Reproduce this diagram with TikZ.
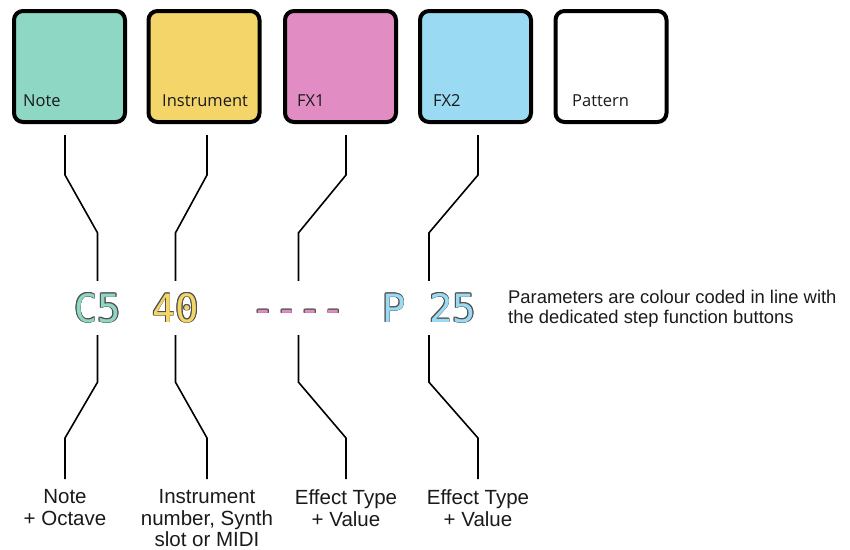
\documentclass[tikz,border=0pt]{standalone}
\usepackage{fontspec}
\setmainfont{Liberation Sans}
\newfontfamily\btnfont{Open Sans}
\newfontfamily\codefont{DejaVu Sans Mono}
\definecolor{notecol}{HTML}{8DD7C4}
\definecolor{instcol}{HTML}{F3D56A}
\definecolor{fxacol}{HTML}{E18DC3}
\definecolor{fxbcol}{HTML}{9ADAF2}
\definecolor{rim}{HTML}{4D4D4D}
\definecolor{ink}{HTML}{1A1A1A}
\newcommand\rimtext[2]{\leavevmode\foreach \dx/\dy in {-0.9/0,0.9/0,0/0.9,0/-0.9,-0.65/0.65,0.65/0.65,-0.65/-0.65,0.65/-0.65}{\rlap{\kern\dx pt\raisebox{\dy pt}{\color{rim}#2}}}\textcolor{#1}{#2}}

\begin{document}
\begin{tikzpicture}[x=1pt, y=-1pt,
    btn/.style={draw=black, line width=4pt, rounded corners=9pt, minimum size=111pt, inner sep=0pt},
    btnlbl/.style={anchor=base west, inner sep=0pt, text=ink, font=\btnfont\fontsize{16.5}{18}\selectfont},
    code/.style={inner sep=0pt, minimum height=54pt, text height=28pt, text depth=0pt, font=\codefont\fontsize{39}{39}\selectfont},
    desc/.style={anchor=north, align=center, inner xsep=0pt, inner ysep=10.5pt, text=ink, font=\fontsize{20.5}{21.5}\selectfont},
    link/.style={line width=1.6pt, black}]
    \useasboundingbox (0,0) rectangle (850,549);

    \node[btn, fill=notecol] (note) at (69.5,66.5) {};
    \node[btn, fill=instcol] (inst) at (204,66.5) {};
    \node[btn, fill=fxacol] (fxa) at (340.5,66.5) {};
    \node[btn, fill=fxbcol] (fxb) at (475.5,66.5) {};
    \node[btn, fill=white] (pattern) at (611,66.5) {};
    \node[btnlbl] (notelbl) at (23,106) {Note};
    \node[btnlbl] (instlbl) at (162,106) {Instrument};
    \node[btnlbl] (fxalbl) at (297,106) {FX1};
    \node[btnlbl] (fxblbl) at (433,106) {FX2};
    \node[btnlbl] (patternlbl) at (572,106) {Pattern};

    \node[code] (c5) at (97.5,308) {\rimtext{notecol}{C5}};
    \node[code] (num) at (175.5,308) {\rimtext{instcol}{40}};
    \node[code] (dash) at (298.5,308) {\rimtext{fxacol}{----}};
    \node[code] (p25) at (429,308) {\rimtext{fxbcol}{P 25}};
    \node[anchor=north west, inner sep=0pt, align=left, text=ink, font=\fontsize{18.4}{20}\selectfont] (hint) at (508,289.5) {Parameters are colour coded in line with\\the dedicated step function buttons};

    \node[desc] (oct) at (65,479) {Note\\+ Octave};
    \node[desc] (slot) at (207,479) {Instrument\\number, Synth\\slot or MIDI};
    \node[desc] (fxaval) at (346,479) {Effect Type\\+ Value};
    \node[desc] (fxbval) at (478,479) {Effect Type\\+ Value};

    \draw[link] (note.south -| oct.north) ++(0,11) -- ++(0,40) -- ([yshift=48pt]c5.north) -- (c5.north);
    \draw[link] (inst.south -| slot.north) ++(0,11) -- ++(0,40) -- ([yshift=48pt]num.north) -- (num.north);
    \draw[link] (fxa.south -| fxaval.north) ++(0,11) -- ++(0,40) -- ([yshift=48pt]dash.north) -- (dash.north);
    \draw[link] (fxb.south -| fxbval.north) ++(0,11) -- ++(0,40) -- ([yshift=48pt]p25.north) -- (p25.north);

    \draw[link] (c5.south) -- ++(0,47) -- ([yshift=41pt]oct.north) -- (oct.north);
    \draw[link] (num.south) -- ++(0,47) -- ([yshift=41pt]slot.north) -- (slot.north);
    \draw[link] (dash.south) -- ++(0,47) -- ([yshift=41pt]fxaval.north) -- (fxaval.north);
    \draw[link] (p25.south) -- ++(0,47) -- ([yshift=41pt]fxbval.north) -- (fxbval.north);
\end{tikzpicture}
\end{document}
